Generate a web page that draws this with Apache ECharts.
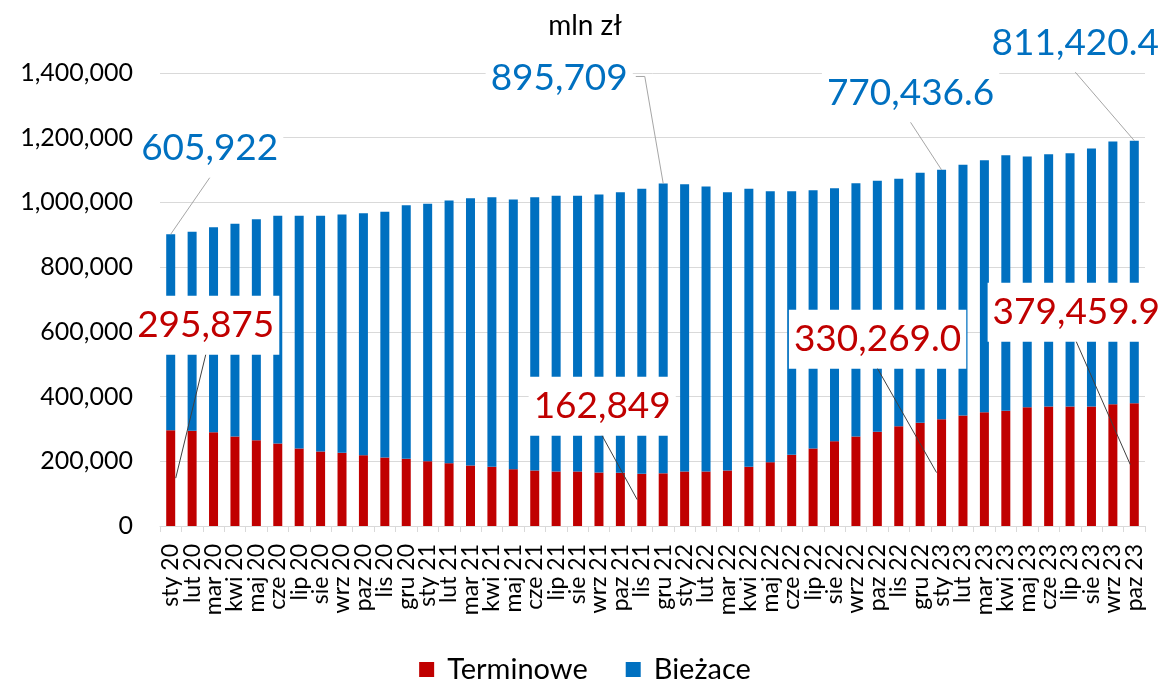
<!DOCTYPE html>
<html>
<head>
<meta charset="utf-8">
<script src="https://cdn.jsdelivr.net/npm/echarts@6/dist/echarts.min.js"></script>
<style>
  html, body { margin: 0; padding: 0; background: #ffffff; }
  #chart { width: 1170px; height: 682px; }
</style>
</head>
<body>
<div id="chart"></div>
<script>
// Monthly categories, Jan 2020 – Oct 2023
const categories = [
  'sty 20','lut 20','mar 20','kwi 20','maj 20','cze 20','lip 20','sie 20','wrz 20','paz 20','lis 20','gru 20',
  'sty 21','lut 21','mar 21','kwi 21','maj 21','cze 21','lip 21','sie 21','wrz 21','paz 21','lis 21','gru 21',
  'sty 22','lut 22','mar 22','kwi 22','maj 22','cze 22','lip 22','sie 22','wrz 22','paz 22','lis 22','gru 22',
  'sty 23','lut 23','mar 23','kwi 23','maj 23','cze 23','lip 23','sie 23','wrz 23','paz 23'
];

// Term deposits (mln zł)
const terminowe = [
  295875, 294300, 289900, 276600, 265200, 255000, 239600, 230300, 226300, 218800, 211700, 207700,
  200300, 194100, 187000, 183000, 175600, 171600, 168500, 168500, 165400, 164400, 161300, 162849,
  168500, 168500, 171600, 183000, 197200, 220100, 239600, 262100, 276600, 291200, 308500, 319000,
  330269.0, 341600, 351800, 356100, 367200, 369400, 369400, 369400, 376500, 379459.9
];

// Current deposits (mln zł)
const biezace = [
  605922, 615100, 633700, 657500, 683100, 703800, 719200, 728500, 736500, 748100, 759500, 783900,
  795600, 812000, 826200, 833300, 833600, 844700, 852100, 852100, 859300, 867400, 881000, 895709,
  888000, 880900, 860200, 859300, 837700, 814800, 798300, 782000, 783000, 775800, 764700, 772700,
  770436.6, 774900, 778900, 790000, 774900, 779800, 782900, 797500, 812000, 811420.4
];

// Value axis ticks
const yTicks = [0, 200000, 400000, 600000, 800000, 1000000, 1200000, 1400000];

// Called-out values: which bar, which segment, decimals shown, label offset from segment top
const callouts = [
  { idx: 0,  part: 'biezace',   decimals: 0, dx: 39,   dy: -86,  ex: 0,   side: 'bottom' },
  { idx: 23, part: 'biezace',   decimals: 0, dx: -104, dy: -105, ex: 0,   side: 'right'  },
  { idx: 36, part: 'biezace',   decimals: 1, dx: -31,  dy: -77,  ex: 0,   side: 'bottom' },
  { idx: 45, part: 'biezace',   decimals: 1, dx: -59,  dy: -98,  ex: 0,   side: 'bottom' },
  { idx: 0,  part: 'terminowe', decimals: 0, dx: 35,   dy: -105, ex: 5,   side: 'bottom' },
  { idx: 23, part: 'terminowe', decimals: 0, dx: -61,  dy: -67,  ex: -26, side: 'bottom' },
  { idx: 36, part: 'terminowe', decimals: 1, dx: -64,  dy: -80,  ex: -5,  side: 'bottom' },
  { idx: 45, part: 'terminowe', decimals: 1, dx: -58,  dy: -91,  ex: -4,  side: 'bottom' }
];

const RED = '#C00000';
const BLUE = '#0070C0';
const FONT = 'Lato, "Open Sans", sans-serif';
const CALLOUT_SIZE = 37;

const chart = echarts.init(document.getElementById('chart'), null, { renderer: 'canvas' });

chart.setOption({
  animation: false,
  backgroundColor: '#ffffff',
  textStyle: { fontFamily: FONT },
  title: {
    text: 'mln zł',
    left: 'center',
    top: 7,
    textStyle: { fontFamily: FONT, fontSize: 28, fontWeight: 'normal', color: '#000000' }
  },
  legend: {
    top: 650,
    left: 'center',
    itemWidth: 15,
    itemHeight: 15,
    itemGap: 38,
    icon: 'rect',
    textStyle: { fontFamily: FONT, fontSize: 29, color: '#000000', padding: [0, 0, 0, 8] },
    data: ['Terminowe', 'Bieżace']
  },
  grid: { left: 160, right: 25, top: 73, bottom: 156 },
  xAxis: {
    type: 'category',
    data: categories,
    axisLine: { lineStyle: { color: '#D9D9D9', width: 1 } },
    axisTick: { show: true, length: 6, lineStyle: { color: '#D9D9D9' } },
    axisLabel: {
      interval: 0,
      rotate: 90,
      margin: 18,
      fontFamily: FONT,
      fontSize: 23,
      color: '#000000'
    }
  },
  yAxis: {
    type: 'value',
    min: yTicks[0],
    max: yTicks[yTicks.length - 1],
    interval: yTicks[1] - yTicks[0],
    axisLine: { show: false },
    axisTick: { show: false },
    splitLine: { lineStyle: { color: '#D9D9D9', width: 1 } },
    axisLabel: {
      margin: 27,
      fontFamily: FONT,
      fontSize: 25,
      color: '#000000',
      formatter: v => v.toLocaleString('en-US')
    }
  },
  series: [
    {
      name: 'Terminowe',
      type: 'bar',
      stack: 'total',
      barWidth: 9,
      itemStyle: { color: RED },
      data: terminowe
    },
    {
      name: 'Bieżace',
      type: 'bar',
      stack: 'total',
      barWidth: 9,
      itemStyle: { color: BLUE },
      data: biezace
    }
  ]
});

// Callout labels with leader lines, placed from the axis scales
const measureCtx = document.createElement('canvas').getContext('2d');
measureCtx.font = CALLOUT_SIZE + 'px ' + FONT;

function fmt(v, d) {
  return v.toLocaleString('en-US', { minimumFractionDigits: d, maximumFractionDigits: d });
}

const elements = [];
callouts.forEach(c => {
  const i = c.idx;
  const isBlue = c.part === 'biezace';
  const value = isBlue ? biezace[i] : terminowe[i];
  const topVal = isBlue ? terminowe[i] + biezace[i] : terminowe[i];
  const top = chart.convertToPixel({ xAxisIndex: 0, yAxisIndex: 0 }, [i, topVal]);
  const base = chart.convertToPixel({ xAxisIndex: 0, yAxisIndex: 0 }, [i, 0]);
  const text = fmt(value, c.decimals);
  const padV = 11, padH = 5;
  const boxW = measureCtx.measureText(text).width + padH * 2;
  const boxH = CALLOUT_SIZE + padV * 2;
  const lx = top[0] + c.dx;
  const ly = top[1] + c.dy;

  const end = isBlue ? [top[0] + c.ex, top[1]] : [top[0] + c.ex, (top[1] + base[1]) / 2];
  let points;
  if (c.side === 'right') {
    const sx = lx + boxW / 2 + 3;
    points = [[sx, ly - 2], [sx + 9, ly - 2], end];
  } else {
    points = [[lx, ly + boxH / 2], end];
  }
  elements.push({
    type: 'polyline',
    z: 100,
    silent: true,
    shape: { points: points },
    style: { stroke: isBlue ? '#A6A6A6' : '#404040', lineWidth: 1, fill: null }
  });
  elements.push({
    type: 'text',
    z: 99,
    silent: true,
    x: lx,
    y: ly,
    style: {
      text: text,
      fill: isBlue ? BLUE : RED,
      fontFamily: FONT,
      fontSize: CALLOUT_SIZE,
      lineHeight: CALLOUT_SIZE,
      align: 'center',
      verticalAlign: 'middle',
      backgroundColor: '#ffffff',
      padding: [padV, padH]
    }
  });
});

chart.setOption({ graphic: { elements: elements } });
</script>
</body>
</html>
